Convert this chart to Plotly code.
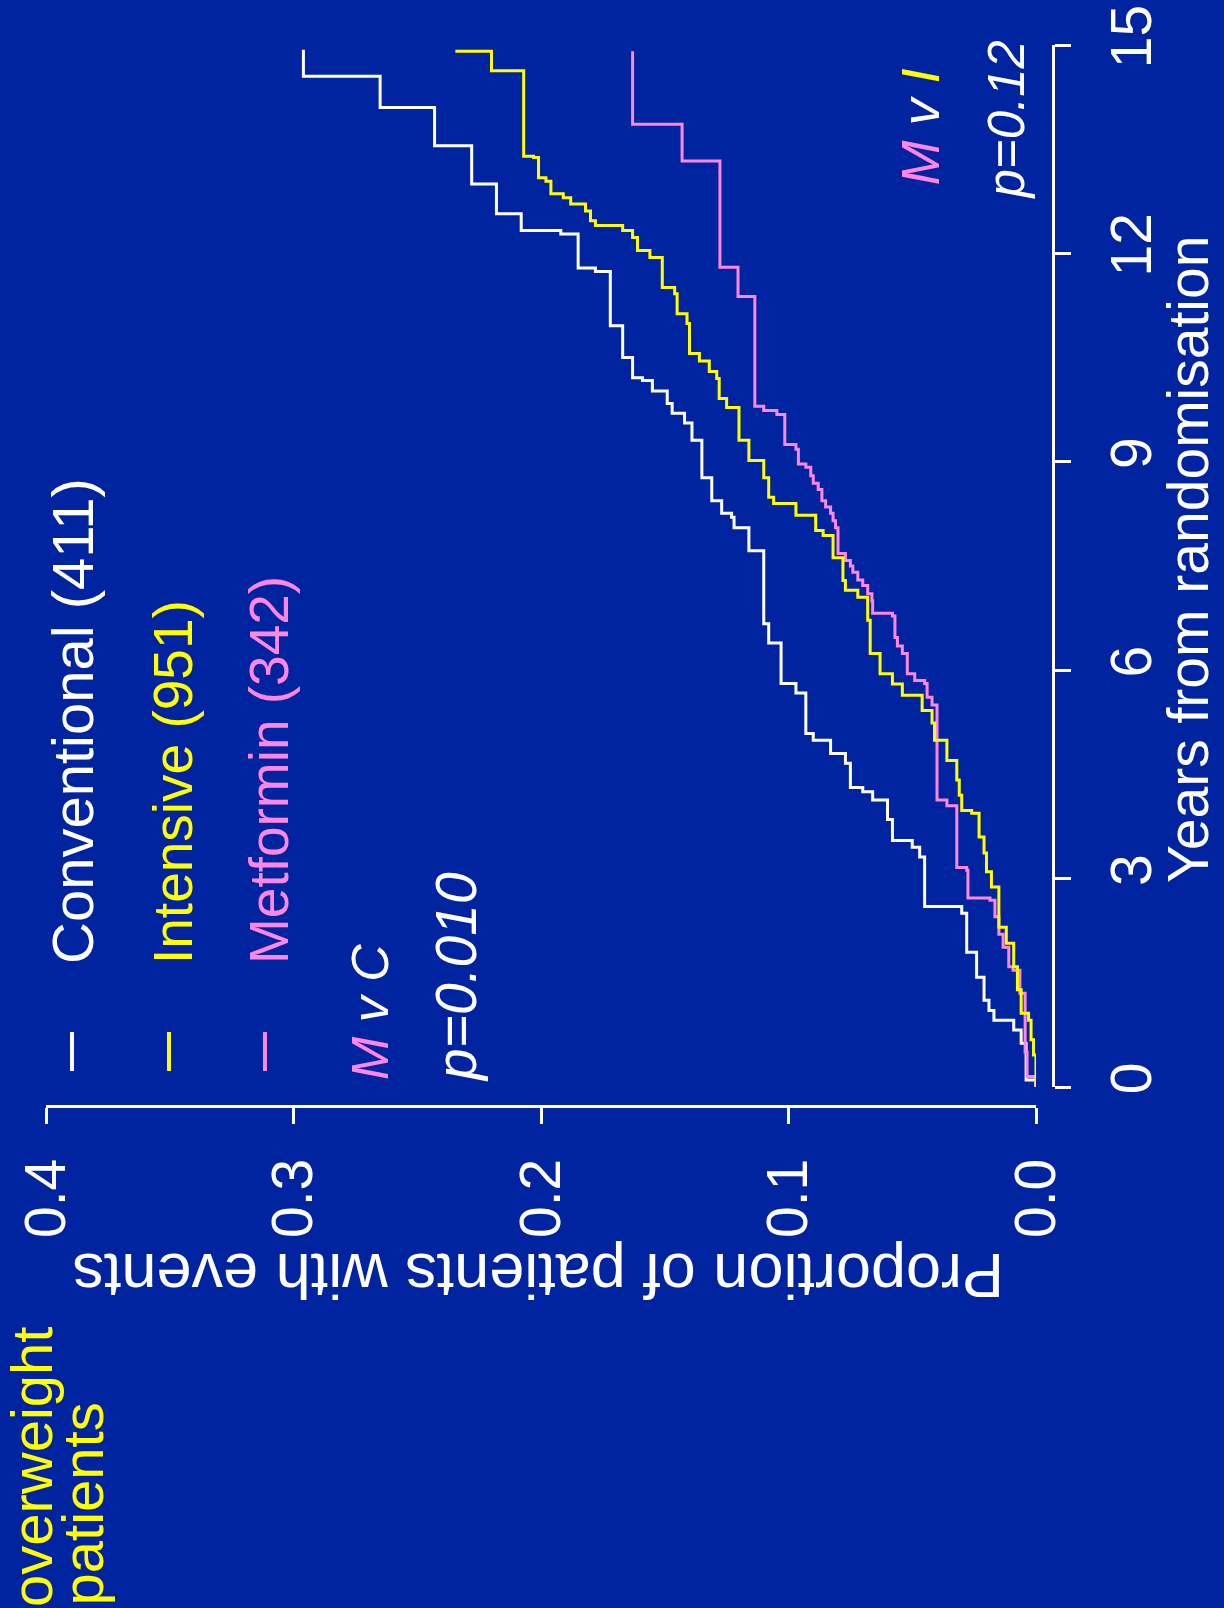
import plotly.graph_objects as go

W, H = 1224, 1608
BG = "#0024A0"
WHITE = "#FFFFFF"
YELLOW = "#FFFF00"
PINK = "#FF86E3"
FONT = "Liberation Sans, Arial, Helvetica, sans-serif"

# ---- data: cumulative proportion of patients with events (Kaplan-Meier steps) ----
white_years = [0.00, 0.10, 0.63, 0.82, 0.96, 1.10, 1.25, 1.58, 1.94, 2.50, 2.60, 3.31, 3.45, 3.55, 3.85,
               4.13, 4.25, 4.31, 4.66, 4.80, 4.99, 5.09, 5.67, 5.81, 6.39, 6.67, 7.72, 8.05, 8.20, 8.26,
               8.44, 8.77, 9.31, 9.56, 9.70, 9.84, 10.02, 10.17, 10.21, 10.50, 10.96, 11.74, 11.79, 12.28,
               12.33, 12.57, 13.00, 13.55, 14.10, 14.55, 14.93]
white_prop = [0.000, 0.004, 0.006, 0.009, 0.017, 0.019, 0.021, 0.024, 0.028, 0.030, 0.045, 0.047, 0.050, 0.058, 0.060,
              0.066, 0.070, 0.075, 0.077, 0.083, 0.090, 0.093, 0.097, 0.103, 0.108, 0.110, 0.116, 0.122, 0.123, 0.127,
              0.131, 0.135, 0.139, 0.142, 0.147, 0.149, 0.155, 0.159, 0.163, 0.167, 0.172, 0.178, 0.185, 0.192,
              0.208, 0.218, 0.228, 0.243, 0.265, 0.296, 0.296]

yellow_years = [0.00, 0.46, 0.68, 0.96, 1.06, 1.40, 1.73, 2.07, 2.30, 2.88, 3.10, 3.37, 3.60, 3.94, 3.98,
                4.20, 4.42, 4.70, 4.99, 5.24, 5.42, 5.64, 5.80, 5.95, 6.24, 6.72, 7.05, 7.15, 7.29, 7.62,
                7.94, 8.01, 8.23, 8.40, 8.49, 8.77, 9.02, 9.31, 9.78, 9.91, 10.20, 10.30, 10.45, 10.56, 10.99,
                11.13, 11.42, 11.51, 11.94, 12.04, 12.23, 12.33, 12.40, 12.47, 12.61, 12.71, 12.80, 12.86, 13.04,
                13.09, 13.38, 13.40, 14.63, 14.91, 14.93]
yellow_prop = [0.000, 0.001, 0.002, 0.003, 0.006, 0.0075, 0.009, 0.012, 0.015, 0.018, 0.020, 0.021, 0.023, 0.026, 0.030,
               0.031, 0.032, 0.036, 0.041, 0.042, 0.046, 0.054, 0.058, 0.063, 0.067, 0.068, 0.072, 0.077, 0.078, 0.082,
               0.086, 0.089, 0.097, 0.106, 0.108, 0.110, 0.116, 0.120, 0.125, 0.128, 0.129, 0.132, 0.136, 0.140, 0.141,
               0.145, 0.146, 0.151, 0.156, 0.161, 0.163, 0.167, 0.178, 0.180, 0.182, 0.188, 0.191, 0.196, 0.198,
               0.201, 0.203, 0.207, 0.220, 0.234, 0.234]

pink_years = [0.00, 0.15, 0.50, 1.35, 1.68, 1.73, 2.01, 2.20, 2.45, 2.69, 2.72, 3.12, 3.16, 4.05, 4.13,
              5.50, 5.61, 5.81, 5.85, 5.95, 6.24, 6.35, 6.47, 6.78, 6.82, 7.00, 7.10, 7.22, 7.30, 7.41,
              7.50, 7.58, 7.68, 8.05, 8.15, 8.26, 8.35, 8.44, 8.60, 8.69, 8.80, 8.92, 8.97, 9.18, 9.25,
              9.68, 9.74, 9.80, 11.38, 11.80, 13.33, 13.86, 14.91]
pink_prop = [0.000, 0.0036, 0.0044, 0.0065, 0.0093, 0.011, 0.0133, 0.015, 0.0166, 0.0186, 0.0275, 0.028, 0.032, 0.036, 0.040,
             0.042, 0.044, 0.045, 0.049, 0.052, 0.054, 0.056, 0.057, 0.058, 0.066, 0.0663, 0.068, 0.070, 0.072, 0.074,
             0.075, 0.077, 0.080, 0.081, 0.082, 0.083, 0.085, 0.0865, 0.088, 0.090, 0.091, 0.093, 0.096, 0.097, 0.1015,
             0.1047, 0.110, 0.1136, 0.1204, 0.1277, 0.143, 0.163, 0.163]

series_names = ["Conventional (411)", "Intensive (951)", "Metformin (342)"]
prop_ticks = [0.0, 0.1, 0.2, 0.3, 0.4]
prop_tick_labels = ["0.0", "0.1", "0.2", "0.3", "0.4"]
year_ticks = [0, 3, 6, 9, 12, 15]
year_tick_labels = ["0", "3", "6", "9", "12", "15"]

fig = go.Figure()
for yrs, prop, col, name in [(white_years, white_prop, WHITE, series_names[0]),
                             (pink_years, pink_prop, PINK, series_names[2]),
                             (yellow_years, yellow_prop, YELLOW, series_names[1])]:
    fig.add_trace(go.Scatter(x=prop, y=yrs, mode="lines", name=name,
                             line=dict(color=col, width=3, shape="vh"), showlegend=False))


def px(x):
    return x / W


def py(y):
    return 1 - y / H


ann = []


def add_text(text, x, y, size, color=WHITE, angle=-90, xa="center", ya="bottom"):
    ann.append(dict(text=text, x=px(x), y=py(y), xref="paper", yref="paper", showarrow=False,
                    textangle=angle, xanchor=xa, yanchor=ya,
                    font=dict(family=FONT, size=size, color=color)))


# legend
add_text(series_names[0], 72, 966, 58, WHITE)
add_text(series_names[1], 173, 966, 55, YELLOW)
add_text(series_names[2], 269, 966, 55, PINK)
# comparisons
add_text(f"<i><span style='color:{PINK}'>M</span> v C</i>", 370, 1082, 52)
add_text("<i>p=0.010</i>", 456, 1084, 57)
add_text(f"<i><span style='color:{PINK}'>M</span> v <span style='color:{YELLOW}'>I</span></i>", 920, 188, 54)
add_text("<i>p=0.12</i>", 1006, 202, 51)
# panel title
add_text("overweight", 31, 1609, 58, YELLOW)
add_text("patients", 82, 1608, 58, YELLOW)
# axis titles
add_text("Years from randomisation", 1188, 560, 57, WHITE, -90, "center", "middle")
add_text("Proportion of patients with events", 538, 1276, 63, WHITE, 180, "center", "middle")

shapes = []
for xc, col in [(72, WHITE), (169, YELLOW), (265, PINK)]:
    shapes.append(dict(type="line", xref="paper", yref="paper", x0=px(xc), x1=px(xc),
                       y0=py(1032), y1=py(1071), line=dict(color=col, width=4)))

fig.update_layout(
    template="none",
    width=W, height=H,
    margin=dict(l=0, r=0, t=0, b=0, autoexpand=False),
    paper_bgcolor=BG, plot_bgcolor=BG,
    annotations=ann, shapes=shapes,
    xaxis=dict(domain=[px(46), px(1036)], range=[0.4, 0.0], anchor="free", position=py(1106),
               side="bottom", tickvals=prop_ticks, ticktext=prop_tick_labels, tickangle=-90,
               ticks="outside", ticklen=16, tickwidth=3, tickcolor=WHITE, automargin=False,
               showline=True, linewidth=3, linecolor=WHITE, showgrid=False, zeroline=False,
               ticklabelstandoff=12,
               tickfont=dict(family=FONT, size=57, color=WHITE)),
    yaxis=dict(domain=[py(1087), py(45)], range=[0, 15], anchor="free", position=px(1053),
               side="right", tickvals=year_ticks, ticktext=year_tick_labels, tickangle=-90,
               ticks="outside", ticklen=16, tickwidth=3, tickcolor=WHITE, automargin=False,
               showline=True, linewidth=3, linecolor=WHITE, showgrid=False, zeroline=False,
               ticklabelstandoff=12,
               tickfont=dict(family=FONT, size=57, color=WHITE)),
)

fig.write_html("out.html")
